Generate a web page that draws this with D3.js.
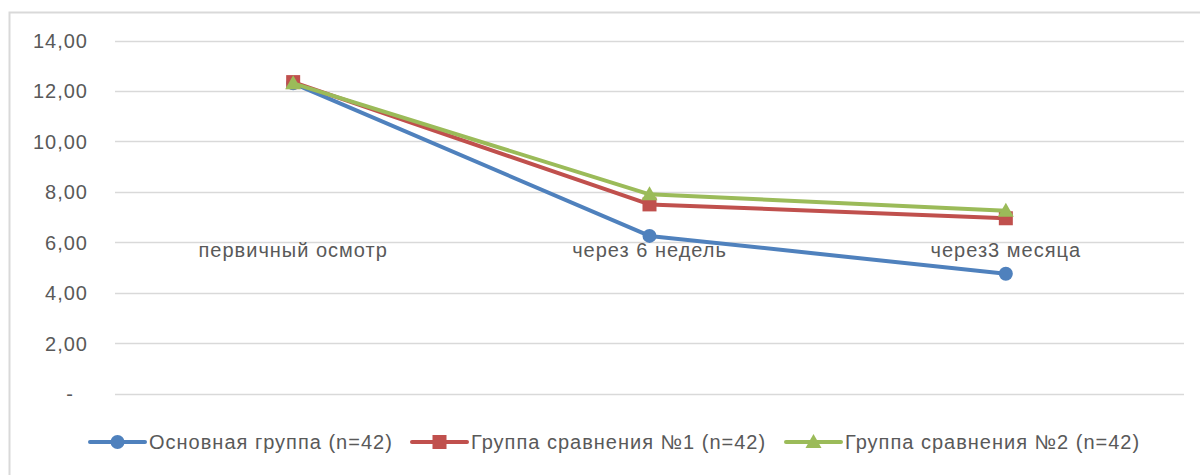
<!DOCTYPE html>
<html><head><meta charset="utf-8">
<script src="https://cdn.jsdelivr.net/npm/d3@7"></script>
<style>body{margin:0;background:#fff}svg{display:block}</style>
</head><body>
<svg id="c" width="1200" height="475"></svg>
<script>
const categories = ["первичный осмотр", "через 6 недель", "через3 месяца"];
const seriesNames = ["Основная группа (n=42)", "Группа сравнения №1 (n=42)", "Группа сравнения №2 (n=42)"];
const mainGroup = [12.30, 6.25, 4.75];
const compare1 = [12.35, 7.50, 6.95];
const compare2 = [12.30, 7.90, 7.25];
const yTicks = [0, 2, 4, 6, 8, 10, 12, 14];

const colors = ["#4F81BD", "#C0504D", "#9BBB59"];
const series = [mainGroup, compare1, compare2];
const font = "'Liberation Sans', Arial, sans-serif";

const svg = d3.select("#c");
svg.append("rect").attr("x", 9.5).attr("y", 12.5).attr("width", 1200).attr("height", 480)
  .attr("fill", "none").attr("stroke", "#d9d9d9").attr("stroke-width", 2);

const x = d3.scaleBand().domain(categories).range([115, 1184]);
const y = d3.scaleLinear().domain([0, 14]).range([393.5, 40.5]);

// gridlines
svg.append("g").selectAll("line").data(yTicks).join("line")
  .attr("x1", 115).attr("x2", 1184)
  .attr("y1", d => Math.round(y(d)) + 0.5).attr("y2", d => Math.round(y(d)) + 0.5)
  .attr("stroke", "#d9d9d9").attr("stroke-width", 1.3);

// y axis labels
const yAxis = d3.axisLeft(y).tickValues(yTicks).tickSize(0).tickPadding(0)
  .tickFormat(d => d === 0 ? "-" : d3.format(".2f")(d).replace(".", ","));
const ga = svg.append("g").attr("transform", "translate(88,0)").call(yAxis);
ga.select(".domain").remove();
ga.selectAll("text").attr("font-family", font).attr("font-size", 20).attr("letter-spacing", 1)
  .attr("fill", "#595959").attr("dy", "0.35em").attr("x", d => d === 0 ? -14 : 0);

// category labels
svg.append("g").selectAll("text").data(categories).join("text")
  .attr("x", d => x(d) + x.bandwidth() / 2).attr("y", 257)
  .attr("text-anchor", "middle").attr("font-family", font).attr("font-size", 20)
  .attr("letter-spacing", 1).attr("fill", "#595959").text(d => d);

const line = d3.line().x((d, i) => x(categories[i]) + x.bandwidth() / 2).y(d => y(d));

function marker(g, type, color, cx, cy) {
  if (type === 0) g.append("circle").attr("cx", cx).attr("cy", cy).attr("r", 7).attr("fill", color);
  else if (type === 1) g.append("rect").attr("x", cx - 7).attr("y", cy - 7).attr("width", 14).attr("height", 14).attr("fill", color);
  else g.append("path").attr("d", `M${cx},${cy - 8}L${cx + 8},${cy + 6}L${cx - 8},${cy + 6}Z`).attr("fill", color);
}

series.forEach((vals, s) => {
  const g = svg.append("g");
  g.append("path").attr("d", line(vals)).attr("fill", "none").attr("stroke", colors[s])
    .attr("stroke-width", 4).attr("stroke-linejoin", "round").attr("stroke-linecap", "round");
  vals.forEach((v, i) => marker(g, s, colors[s], x(categories[i]) + x.bandwidth() / 2, y(v)));
});

// legend
const legendX = [90, 412, 786];
const lg = svg.append("g");
seriesNames.forEach((name, s) => {
  const lx = legendX[s], ly = 442;
  lg.append("line").attr("x1", lx).attr("x2", lx + 55).attr("y1", ly).attr("y2", ly)
    .attr("stroke", colors[s]).attr("stroke-width", 4).attr("stroke-linecap", "round");
  marker(lg, s, colors[s], lx + 27.5, ly);
  lg.append("text").attr("x", lx + 59).attr("y", ly).attr("dy", "0.35em")
    .attr("font-family", font).attr("font-size", 20).attr("letter-spacing", 1)
    .attr("fill", "#595959").text(name);
});
</script>
</body></html>
